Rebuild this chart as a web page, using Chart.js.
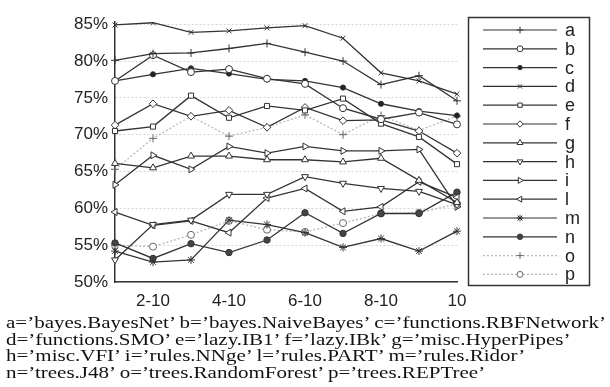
<!DOCTYPE html>
<html>
<head>
<meta charset="utf-8">
<script src="https://cdn.jsdelivr.net/npm/chart.js@4/dist/chart.umd.min.js"></script>
<style>
  body { margin: 0; background: #fff; }
  #wrap { position: relative; width: 610px; height: 387px; overflow: hidden; }
  #mychart { position: absolute; left: 0; top: 0; }
  #caption {
    position: absolute; left: 6px; top: 315px;
    font: 16px "Liberation Serif", "Times New Roman", serif;
    line-height: 16.6px; color: #111; white-space: nowrap;
  }
  #caption span { display: inline-block; transform-origin: left center; }
</style>
</head>
<body>
<div id="wrap">
  <canvas id="mychart" width="610" height="387"></canvas>
  <div id="caption">
    <span>a=’bayes.BayesNet’ b=’bayes.NaiveBayes’ c=’functions.RBFNetwork’</span><br>
    <span>d=’functions.SMO’ e=’lazy.IB1’ f=’lazy.IBk’ g=’misc.HyperPipes’</span><br>
    <span>h=’misc.VFI’ i=’rules.NNge’ l=’rules.PART’ m=’rules.Ridor’</span><br>
    <span>n=’trees.J48’ o=’trees.RandomForest’ p=’trees.REPTree’</span>
  </div>
</div>
<script>
const labels = ['1-10', '2-10', '3-10', '4-10', '5-10', '6-10', '7-10', '8-10', '9-10', '10'];
const yTicks = [50, 55, 60, 65, 70, 75, 80, 85];

const names = ['a', 'b', 'c', 'd', 'e', 'f', 'g', 'h', 'i', 'l', 'm', 'n', 'o', 'p'];

const a = [80.1, 81.0, 81.1, 81.7, 82.4, 81.2, 80.0, 76.8, 78.0, 74.6];
const b = [77.3, 80.8, 78.5, 78.9, 77.6, 76.9, 73.6, 72.1, 73.0, 71.4];
const c = [77.3, 78.2, 79.0, 78.3, 77.5, 77.3, 76.4, 74.2, 73.2, 72.6];
const d = [84.9, 85.2, 83.9, 84.1, 84.5, 84.8, 83.1, 78.4, 77.3, 75.5];
const e = [70.5, 71.1, 75.3, 72.3, 73.9, 73.3, 74.9, 71.5, 69.7, 66.0];
const f = [71.3, 74.2, 72.5, 73.3, 71.0, 73.7, 71.9, 72.0, 70.5, 67.5];
const g = [66.1, 65.5, 67.1, 67.1, 66.6, 66.6, 66.3, 66.8, 63.8, 60.8];
const h = [53.0, 57.8, 58.4, 61.9, 61.9, 64.3, 63.4, 62.7, 62.3, 60.5];
const i = [63.2, 67.2, 65.3, 68.4, 67.5, 68.4, 67.8, 67.8, 68.0, 60.2];
const l = [59.5, 57.7, 58.3, 56.7, 61.4, 62.7, 59.6, 60.2, 63.6, 61.5];
const m = [54.2, 52.7, 53.0, 58.4, 57.8, 56.7, 54.7, 55.9, 54.2, 56.9];
const n = [55.3, 53.2, 55.2, 54.0, 55.7, 59.4, 56.6, 59.3, 59.3, 62.2];
const o = [65.3, 69.5, 72.5, 69.8, 71.0, 72.7, 70.0, 72.6, 70.6, 72.5];
const p = [55.0, 54.8, 56.4, 58.3, 57.1, 56.8, 58.0, 59.3, 59.4, 60.6];

const values = [a, b, c, d, e, f, g, h, i, l, m, n, o, p];

// marker look for each series
const looks = {
  a: { ps: 'cross', r: 4 },
  b: { ps: 'circle', r: 3.5 },
  c: { ps: 'circle', r: 2.6, fill: '#222' },
  d: { ps: 'crossRot', r: 3.5 },
  e: { ps: 'rect', r: 3.6 },
  f: { ps: 'rectRot', r: 3.8 },
  g: { ps: 'triangle', r: 4 },
  h: { ps: 'triangle', r: 4, rot: 180 },
  i: { ps: 'triangle', r: 4, rot: 90 },
  l: { ps: 'triangle', r: 4, rot: -90 },
  m: { ps: 'star', r: 4 },
  n: { ps: 'circle', r: 3.2, fill: '#444' },
  o: { ps: 'cross', r: 4, light: true },
  p: { ps: 'circle', r: 3.5, light: true }
};

const datasets = names.map((name, k) => {
  const s = looks[name];
  return {
    label: name,
    data: values[k],
    borderColor: s.light ? '#b8b8b8' : '#333',
    borderWidth: 1.3,
    borderDash: s.light ? [2, 2] : [],
    pointStyle: s.ps,
    pointRotation: s.rot || 0,
    pointRadius: s.r,
    pointBorderWidth: 1,
    pointBorderColor: s.light ? '#666' : '#333',
    pointBackgroundColor: s.fill || '#fff',
    tension: 0,
    fill: false
  };
});

const legendBox = {
  id: 'legendBox',
  afterDraw(chart) {
    const ctx = chart.ctx;
    ctx.save();
    ctx.strokeStyle = '#333';
    ctx.lineWidth = 1.5;
    ctx.strokeRect(468.5, 17.5, 121, 268);
    chart.data.datasets.forEach((ds, k) => {
      const y = 30 + k * 18.8;
      ctx.strokeStyle = ds.borderColor;
      ctx.lineWidth = 1.2;
      ctx.setLineDash(ds.borderDash);
      ctx.beginPath();
      ctx.moveTo(483, y);
      ctx.lineTo(557, y);
      ctx.stroke();
      ctx.setLineDash([]);
      ctx.fillStyle = ds.pointBackgroundColor;
      ctx.strokeStyle = ds.pointBorderColor;
      ctx.lineWidth = 1;
      Chart.helpers.drawPoint(ctx, {
        pointStyle: ds.pointStyle,
        rotation: ds.pointRotation,
        radius: ds.pointRadius * 0.85,
        borderWidth: 1
      }, 520, y);
      ctx.fillStyle = '#222';
      ctx.font = '18px "Liberation Sans", Arial, sans-serif';
      ctx.textBaseline = 'middle';
      ctx.textAlign = 'left';
      ctx.fillText(ds.label, 565, y + 1);
    });
    ctx.restore();
  }
};

const ctx = document.getElementById('mychart').getContext('2d');
const myChart = new Chart(ctx, {
  type: 'line',
  data: { labels: labels, datasets: datasets },
  plugins: [legendBox],
  options: {
    responsive: false,
    animation: false,
    layout: { padding: { top: 22, right: 153, bottom: 75, left: 0 } },
    plugins: { legend: { display: false }, tooltip: { enabled: false } },
    scales: {
      x: {
        offset: false,
        afterFit: (scale) => { scale.height = 30; },
        grid: { display: true, drawOnChartArea: false, drawTicks: false },
        border: { display: true, color: '#333', width: 1.5 },
        ticks: {
          autoSkip: false,
          maxRotation: 0,
          padding: 9,
          color: '#222',
          font: { family: '"Liberation Sans", Arial, sans-serif', size: 17 },
          callback: (v, idx) => (idx % 2 === 1 ? labels[idx] : '')
        }
      },
      y: {
        min: 50,
        max: 85.3,
        afterFit: (scale) => { scale.width = 115; },
        afterBuildTicks: (scale) => { scale.ticks = yTicks.map(v => ({ value: v })); },
        grid: { color: '#d4d4d4', lineWidth: 1, drawTicks: false },
        border: { display: true, color: '#333', width: 1.5, dash: [2, 2] },
        ticks: {
          padding: 7,
          color: '#222',
          font: { family: '"Liberation Sans", Arial, sans-serif', size: 17 },
          callback: (v) => v + '%'
        }
      }
    }
  }
});

// stretch caption lines to the width they have in the figure
const spans = document.querySelectorAll('#caption span');
const k = 600 / spans[0].offsetWidth;
spans.forEach(s => { s.style.transform = 'scaleX(' + k + ')'; });
</script>
</body>
</html>
